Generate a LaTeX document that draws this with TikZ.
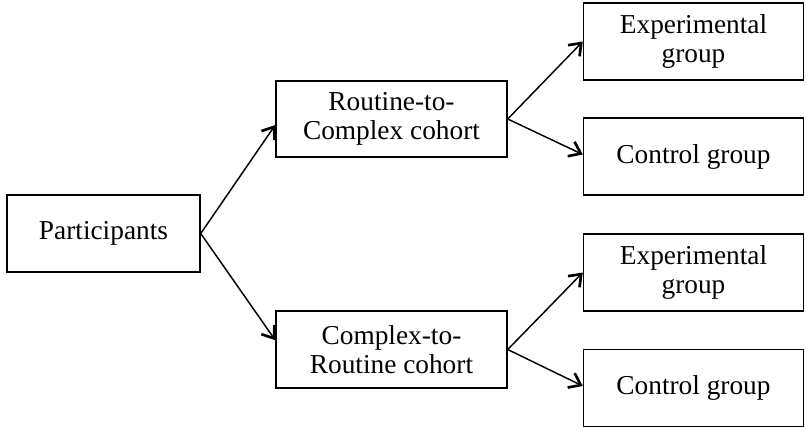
\documentclass[tikz,border=0pt]{standalone}
\usepackage{fontspec}
\setmainfont{Liberation Serif}
\usetikzlibrary{arrows.meta}
\begin{document}
\begin{tikzpicture}[x=0.75pt,y=-0.75pt,
  box/.style={draw,line width=1.1pt,inner sep=0pt,align=center,font=\fontsize{20.5}{21.5}\selectfont},
  conn/.style={line width=1.1pt,-{Straight Barb[length=8pt,width=12pt,line width=2pt]}}]
\useasboundingbox (0,0) rectangle (806,428);
\node[box,minimum width=144.75pt,minimum height=57.75pt] (p) at (103.5,233.5) {Participants};
\node[box,minimum width=173.25pt,minimum height=57pt] (rc) at (391.5,119) {Routine-to-\\Complex cohort};
\node[box,minimum width=173.25pt,minimum height=57.75pt] (cr) at (391.5,349.5) {Complex-to-\\Routine cohort};
\node[box,minimum width=165pt,minimum height=57.75pt] (e1) at (693.5,41.5) {Experimental\\group};
\node[box,minimum width=165pt,minimum height=57.75pt] (c1) at (693.5,156.5) {Control group};
\node[box,minimum width=165pt,minimum height=57.75pt] (e2) at (693.5,272.5) {Experimental\\group};
\node[box,minimum width=165pt,minimum height=57.75pt] (c2) at (693.5,388) {Control group};
\draw[conn] (p.east) -- ([yshift=-4.5pt]rc.west);
\draw[conn] (p.east) -- ([yshift=7pt]cr.west);
\draw[conn] (rc.east) -- (e1.west);
\draw[conn] (rc.east) -- ([yshift=1.5pt]c1.west);
\draw[conn] (cr.east) -- (e2.west);
\draw[conn] (cr.east) -- ([yshift=1.5pt]c2.west);
\end{tikzpicture}
\end{document}
